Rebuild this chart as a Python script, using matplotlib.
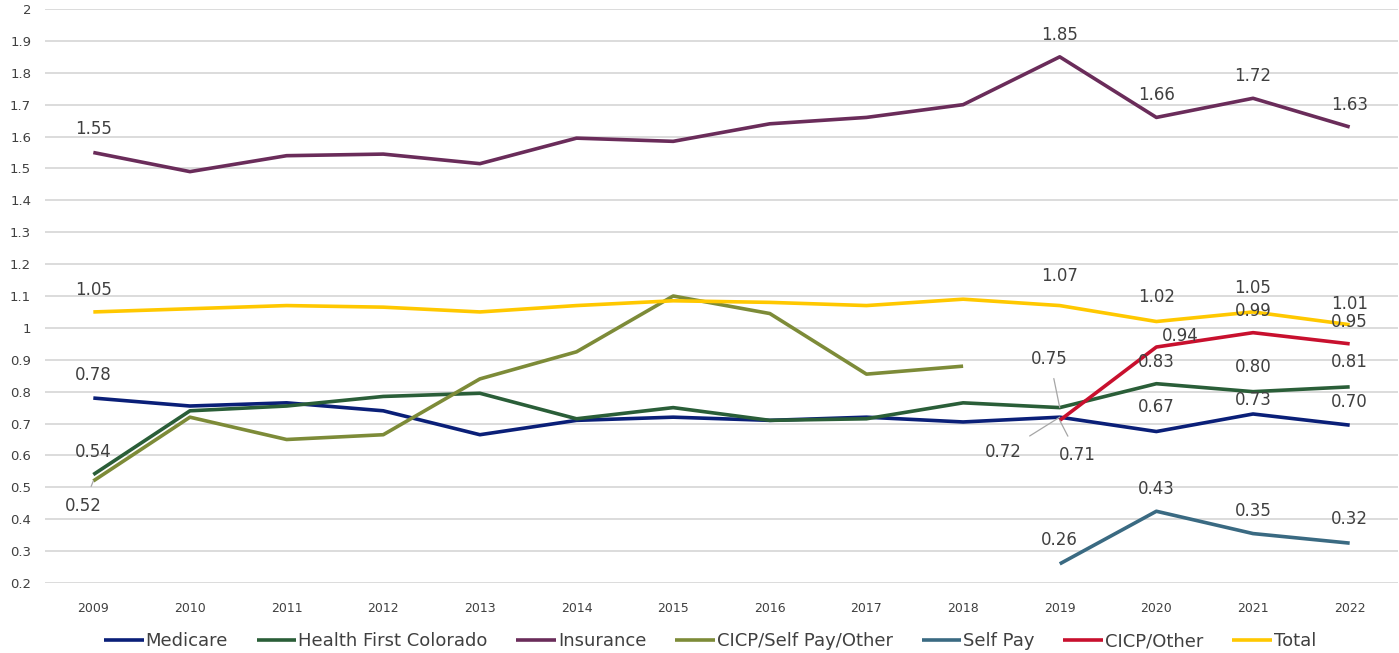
import numpy as np
import matplotlib
matplotlib.use('Agg')
import matplotlib.pyplot as plt

# Data
years = ['2009', '2010', '2011', '2012', '2013', '2014', '2015',
         '2016', '2017', '2018', '2019', '2020', '2021', '2022']
nan = np.nan
medicare = [0.78, 0.755, 0.765, 0.74, 0.665, 0.71, 0.72, 0.71, 0.72, 0.705, 0.72, 0.675, 0.73, 0.695]
hfc = [0.54, 0.74, 0.755, 0.785, 0.795, 0.715, 0.75, 0.71, 0.715, 0.765, 0.75, 0.825, 0.80, 0.815]
insurance = [1.55, 1.49, 1.54, 1.545, 1.515, 1.595, 1.585, 1.64, 1.66, 1.70, 1.85, 1.66, 1.72, 1.63]
cicp_sp_other = [0.52, 0.72, 0.65, 0.665, 0.84, 0.925, 1.10, 1.045, 0.855, 0.88, nan, nan, nan, nan]
self_pay = [nan, nan, nan, nan, nan, nan, nan, nan, nan, nan, 0.26, 0.425, 0.355, 0.325]
cicp_other = [nan, nan, nan, nan, nan, nan, nan, nan, nan, nan, 0.71, 0.94, 0.985, 0.95]
total = [1.05, 1.06, 1.07, 1.065, 1.05, 1.07, 1.085, 1.08, 1.07, 1.09, 1.07, 1.02, 1.05, 1.01]

series_names = ['Medicare', 'Health First Colorado', 'Insurance', 'CICP/Self Pay/Other',
                'Self Pay', 'CICP/Other', 'Total']
series_vals = [medicare, hfc, insurance, cicp_sp_other, self_pay, cicp_other, total]
colors = ['#0a1f78', '#2a5e38', '#6a2c5a', '#7d8b38', '#3a6a82', '#c8102e', '#ffc800']

# data labels: (series index, year index, label text, dx px, dy px, leader line)
labels = [
    (2, 0, '1.55', 0, 24, False), (2, 10, '1.85', 0, 22, False), (2, 11, '1.66', 0, 22, False),
    (2, 12, '1.72', 0, 22, False), (2, 13, '1.63', 0, 22, False),
    (6, 0, '1.05', 0, 22, False), (6, 10, '1.07', 0, 30, False), (6, 11, '1.02', 0, 25, False),
    (6, 12, '1.05', 0, 24, False), (6, 13, '1.01', 0, 21, False),
    (5, 11, '0.94', 24, 11, False), (5, 12, '0.99', 0, 22, False), (5, 13, '0.95', 0, 22, False),
    (5, 10, '0.71', 18, -35, True),
    (1, 0, '0.54', 0, 23, False), (1, 10, '0.75', -10, 49, True), (1, 11, '0.83', 0, 22, False),
    (1, 12, '0.80', 0, 25, False), (1, 13, '0.81', 0, 25, False),
    (0, 0, '0.78', 0, 23, False), (0, 10, '0.72', -56, -35, True), (0, 11, '0.67', 0, 25, False),
    (0, 12, '0.73', 0, 14, False), (0, 13, '0.70', 0, 23, False),
    (3, 0, '0.52', -10, -25, True),
    (4, 10, '0.26', 0, 24, False), (4, 11, '0.43', 0, 22, False), (4, 12, '0.35', 0, 23, False),
    (4, 13, '0.32', 0, 24, False),
]

yticks = [0.2, 0.3, 0.4, 0.5, 0.6, 0.7, 0.8, 0.9, 1.0, 1.1, 1.2, 1.3, 1.4, 1.5, 1.6, 1.7, 1.8, 1.9, 2.0]
ytick_labels = ['0.2', '0.3', '0.4', '0.5', '0.6', '0.7', '0.8', '0.9', '1', '1.1', '1.2',
                '1.3', '1.4', '1.5', '1.6', '1.7', '1.8', '1.9', '2']

plt.rcParams['font.family'] = ['DejaVu Sans']
fig = plt.figure(figsize=(13.99, 6.53), dpi=100)
ax = fig.add_axes([45 / 1399, 1 - 583 / 653, 1353 / 1399, 574 / 653])

x = np.arange(len(years))
lines = []
for name, vals, c in zip(series_names, series_vals, colors):
    ln, = ax.plot(x, vals, color=c, lw=2.6, label=name, solid_capstyle='butt', zorder=3)
    lines.append(ln)

for si, yi, txt, dx, dy, leader in labels:
    val = series_vals[si][yi]
    kw = {}
    if leader:
        kw['arrowprops'] = dict(arrowstyle='-', color='#a6a6a6', lw=0.9, shrinkA=6, shrinkB=0)
    ax.annotate(txt, (x[yi], val), xytext=(dx, dy), textcoords='offset pixels',
                ha='center', va='center', fontsize=12, color='#404040', zorder=5, **kw)

ax.set_xlim(-0.5, 13.5)
ax.set_ylim(0.2, 2.0)
ax.set_xticks(x)
ax.set_xticklabels(years, fontsize=9, color='#404040')
ax.set_yticks(yticks)
ax.set_yticklabels(ytick_labels, fontsize=9.5, color='#404040')
ax.tick_params(length=0, pad=10)
ax.tick_params(axis='x', pad=14)
ax.yaxis.grid(True, color='#d9d9d9', lw=1.3)
ax.set_axisbelow(True)
for s in ax.spines.values():
    s.set_visible(False)

fig.legend(handles=lines, loc='center', bbox_to_anchor=(0.5075, 0.018), ncol=7,
           frameon=False, fontsize=13, handlelength=2.2, handletextpad=0.1,
           columnspacing=1.6, labelcolor='#404040')

fig.savefig('out.png', dpi=100)
